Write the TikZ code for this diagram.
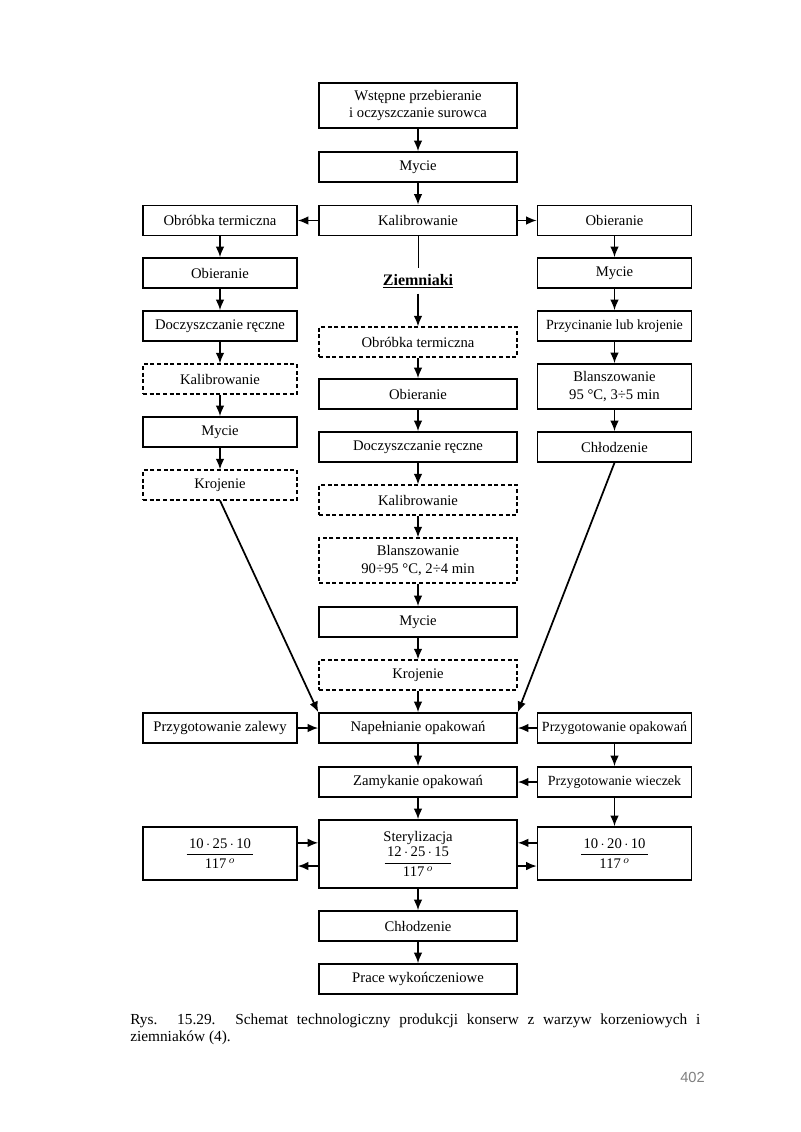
\documentclass[tikz,border=0pt]{standalone}
\usepackage{fontspec}
\setmainfont{Liberation Serif}
\newfontfamily\pagefont{Liberation Sans}
\usetikzlibrary{arrows.meta,calc}
\newcommand\fracbox[3]{$\displaystyle\frac{\hbox{\,#1\,$\cdot$\,#2\,$\cdot$\,#3\,}}{\hbox{117\,$^{o}$}}$}
\begin{document}
\begin{tikzpicture}[x=0.75pt,y=-0.75pt,
  every node/.style={font=\fontsize{11}{13}\selectfont},
  box/.style={draw, line width=1.1pt, minimum height=22.5pt, inner sep=1pt, align=center},
  mid/.style={box, minimum width=148.5pt},
  side/.style={box, minimum width=115.5pt},
  dbox/.style={line width=0.8pt, dash pattern=on 3pt off 2pt},
  tall/.style={minimum height=33.75pt},
  arr/.style={-{Latex[length=8pt,width=6.5pt]}, line width=1.3pt},
]
\fill[white] (0,0) rectangle (800,1132);
\useasboundingbox (0,0) rectangle (800,1132);

% middle column
\node[mid,tall] (w1) at (418,105.5) {Wstępne przebieranie\\i oczyszczanie surowca};
\node[mid] (m1) at (418,167) {Mycie};
\node[mid] (kal) at (418,220.5) {Kalibrowanie};
\node[inner xsep=2pt, inner ysep=4pt, font=\fontsize{12}{14}\selectfont\bfseries] (ziem) at (418,281) {\underline{Ziemniaki}};
\node[mid,dbox] (mobr) at (418,342) {Obróbka termiczna};
\node[mid] (mobi) at (418,394) {Obieranie};
\node[mid] (mdocz) at (418,447) {Doczyszczanie ręczne};
\node[mid,dbox] (mkal) at (418,500) {Kalibrowanie};
\node[mid,tall,dbox] (mblan) at (418,560.5) {Blanszowanie\\90÷95 °C, 2÷4 min};
\node[mid] (mmyc) at (418,622) {Mycie};
\node[mid,dbox] (mkroj) at (418,675) {Krojenie};
\node[mid] (napel) at (418,728) {Napełnianie opakowań};
\node[mid] (zamyk) at (418,782) {Zamykanie opakowań};
\node[mid, minimum height=51pt] (ster) at (418,854) {Sterylizacja\\[1pt]\fracbox{12}{25}{15}};
\node[mid] (chlod) at (418,926) {Chłodzenie};
\node[mid] (prace) at (418,979) {Prace wykończeniowe};

% left column
\node[side] (lobr) at (220,220.5) {Obróbka termiczna};
\node[side] (lobi) at (220,273) {Obieranie};
\node[side] (ldocz) at (220,326) {Doczyszczanie ręczne};
\node[side,dbox] (lkal) at (220,379) {Kalibrowanie};
\node[side] (lmyc) at (220,432) {Mycie};
\node[side,dbox] (lkroj) at (220,485) {Krojenie};
\node[side] (lzal) at (220,728) {Przygotowanie zalewy};
\node[side, minimum height=39.75pt] (lfrac) at (220,853.5) {\fracbox{10}{25}{10}};

% right column
\node[side] (robi) at (614.5,220.5) {Obieranie};
\node[side] (rmyc) at (614.5,273) {Mycie};
\node[side] (rprz) at (614.5,326) {\fontsize{10.5}{12}\selectfont Przycinanie lub krojenie};
\node[side,tall] (rblan) at (614.5,386.5) {Blanszowanie\\95 °C, 3÷5 min};
\node[side] (rchl) at (614.5,447) {Chłodzenie};
\node[side] (ropak) at (614.5,728) {\fontsize{10.5}{12}\selectfont Przygotowanie opakowań};
\node[side] (rwiec) at (614.5,782) {\fontsize{10.5}{12}\selectfont Przygotowanie wieczek};
\node[side, minimum height=39.75pt] (rfrac) at (614.5,853.5) {\fracbox{10}{20}{10}};

% middle arrows
\draw[arr] (w1) -- (m1);
\draw[arr] (m1) -- (kal);
\draw[arr] (kal) -- (lobr);
\draw[arr] (kal) -- (robi);
\draw[line width=0.7pt] (kal) -- (ziem);
\draw[arr] (ziem) -- (mobr);
\draw[arr] (mobr) -- (mobi);
\draw[arr] (mobi) -- (mdocz);
\draw[arr] (mdocz) -- (mkal);
\draw[arr] (mkal) -- (mblan);
\draw[arr] (mblan) -- (mmyc);
\draw[arr] (mmyc) -- (mkroj);
\draw[arr] (mkroj) -- (napel);
\draw[arr] (napel) -- (zamyk);
\draw[arr] (zamyk) -- (ster);
\draw[arr] (ster) -- (chlod);
\draw[arr] (chlod) -- (prace);

% left arrows
\draw[arr] (lobr) -- (lobi);
\draw[arr] (lobi) -- (ldocz);
\draw[arr] (ldocz) -- (lkal);
\draw[arr] (lkal) -- (lmyc);
\draw[arr] (lmyc) -- (lkroj);
\draw[arr] (lkroj.south) -- (napel.north west);
\draw[arr] (lzal) -- (napel);
\draw[arr] ([yshift=8pt]lfrac.east) -- ([yshift=8pt]lfrac.east -| ster.west);
\draw[arr] ([yshift=-9.4pt]lfrac.east -| ster.west) -- ([yshift=-9.4pt]lfrac.east);

% right arrows
\draw[arr] (robi) -- (rmyc);
\draw[arr] (rmyc) -- (rprz);
\draw[arr] (rprz) -- (rblan);
\draw[arr] (rblan) -- (rchl);
\draw[arr] (rchl.south) -- (napel.north east);
\draw[arr] (ropak) -- (napel);
\draw[arr] (ropak) -- (rwiec);
\draw[arr] (rwiec) -- (zamyk);
\draw[arr] (rwiec) -- (rfrac);
\draw[arr] ([yshift=8pt]rfrac.west) -- ([yshift=8pt]rfrac.west -| ster.east);
\draw[arr] ([yshift=-9.4pt]rfrac.west -| ster.east) -- ([yshift=-9.4pt]rfrac.west);

% caption and page number
\node[anchor=north west, inner sep=0pt, text width=427.5pt, align=justify,
      font=\fontsize{11.5}{12.75}\selectfont] (cap) at (130,1014)
  {Rys. 15.29. Schemat technologiczny produkcji konserw z warzyw korzeniowych i\linebreak ziemniaków (4).};
\node[anchor=east, inner sep=0pt, text=gray, font=\pagefont\fontsize{11}{13}\selectfont] (page) at (705,1077) {402};
\end{tikzpicture}
\end{document}
